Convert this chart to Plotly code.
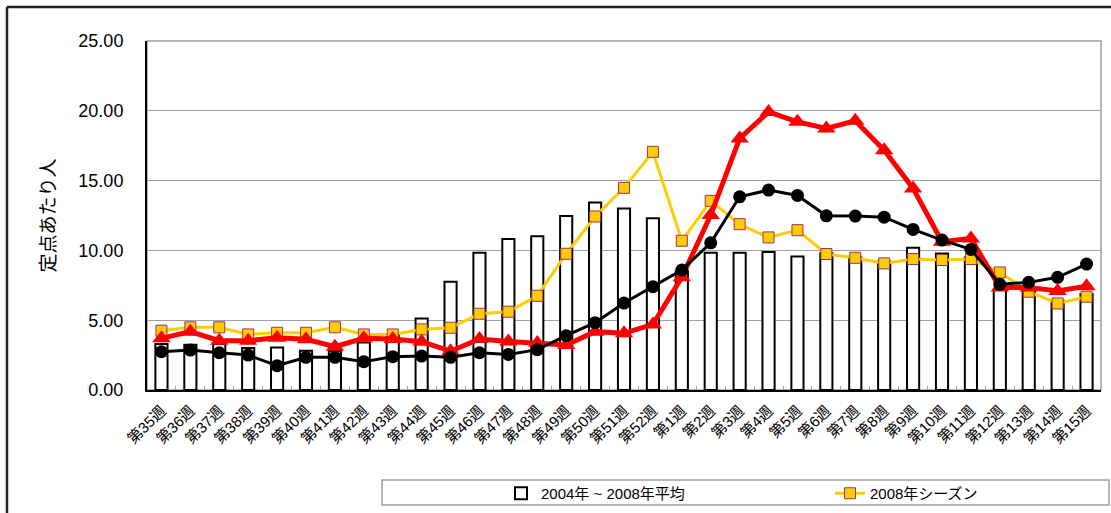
import plotly.graph_objects as go

weeks = [f"第{w}週" for w in range(35, 53)] + [f"第{w}週" for w in range(1, 16)]

avg_2004_2008 = [3.3, 3.25, 3.3, 3.0, 3.05, 2.82, 2.8, 3.4, 4.0, 5.13, 7.75, 9.83, 10.81, 11.02,
                 12.46, 13.43, 13.0, 12.31, 8.5, 9.83, 9.83, 9.88, 9.57, 9.8, 9.5, 9.2,
                 10.19, 9.78, 9.5, 7.2, 7.1, 6.4, 6.87]

season_2008 = [4.25, 4.49, 4.49, 3.98, 4.1, 4.1, 4.49, 3.98, 3.98, 4.34, 4.46, 5.46, 5.61, 6.75,
               9.76, 12.43, 14.48, 17.06, 10.69, 13.55, 11.88, 10.93, 11.45, 9.74, 9.47, 9.07,
               9.38, 9.31, 9.38, 8.42, 7.04, 6.2, 6.68]

season_red = [3.70, 4.18, 3.53, 3.53, 3.75, 3.63, 3.1, 3.7, 3.65, 3.46, 2.78, 3.65, 3.48, 3.36,
              3.22, 4.18, 4.06, 4.7, 8.07, 12.53, 18.02, 19.92, 19.21, 18.73, 19.28, 17.18,
              14.44, 10.62, 10.86, 7.35, 7.35, 7.09, 7.44]

season_black = [2.74, 2.86, 2.67, 2.5, 1.74, 2.34, 2.34, 2.03, 2.39, 2.43, 2.34, 2.67, 2.55, 2.89,
                3.89, 4.82, 6.23, 7.4, 8.59, 10.54, 13.84, 14.32, 13.94, 12.48, 12.46, 12.38,
                11.5, 10.74, 10.07, 7.57, 7.71, 8.07, 9.02]

y_ticks = [0, 5, 10, 15, 20, 25]

FONT = "Liberation Sans, Arial, Noto Sans CJK JP, sans-serif"

fig = go.Figure()
fig.add_trace(go.Bar(
    x=weeks, y=avg_2004_2008, name="2004年 ~ 2008年平均",
    marker=dict(color="white", line=dict(color="black", width=2)),
))
fig.add_trace(go.Scatter(
    x=weeks, y=season_2008, name="2008年シーズン", mode="lines+markers",
    line=dict(color="#FFCC00", width=3),
    marker=dict(symbol="square", size=11, color="#FFCC00", line=dict(color="#993366", width=1)),
))
fig.add_trace(go.Scatter(
    x=weeks, y=season_red, name="2009年シーズン", mode="lines+markers", showlegend=False,
    line=dict(color="#FF0000", width=5),
    marker=dict(symbol="triangle-up", size=16, color="#FF0000"),
))
fig.add_trace(go.Scatter(
    x=weeks, y=season_black, name="2010年シーズン", mode="lines+markers", showlegend=False,
    line=dict(color="black", width=3),
    marker=dict(symbol="circle", size=13, color="black"),
))

L, R, T, B = 147, 10, 41, 123
W, H = 1111, 513
pw, ph = W - L - R, H - T - B

def px_x(p):
    return (p - L) / pw

def px_y(p):
    return (H - B - p) / ph

fig.update_layout(
    width=W, height=H,
    margin=dict(l=L, r=R, t=T, b=B),
    paper_bgcolor="white", plot_bgcolor="white",
    bargap=0.58,
    font=dict(family=FONT, color="black"),
    showlegend=True,
    legend=dict(
        orientation="h", xref="container", yref="container",
        x=501 / W, y=1 - 477 / H, xanchor="left", yanchor="top",
        entrywidth=284, entrywidthmode="pixels",
        font=dict(size=15, family=FONT), bgcolor="rgba(0,0,0,0)", borderwidth=0,
    ),
    xaxis=dict(
        type="category", range=[-0.5, len(weeks) - 0.5],
        tickangle=-45, tickfont=dict(size=15), ticklabelstandoff=4,
        showline=True, linecolor="black", linewidth=2,
        ticks="inside", tickson="boundaries", ticklen=4, tickcolor="#a0a0a0",
        showgrid=False,
    ),
    yaxis=dict(
        range=[0, 25], tickvals=y_ticks, tickformat=".2f",
        tickfont=dict(size=18), ticklabelstandoff=18,
        showline=True, linecolor="black", linewidth=2,
        showgrid=True, gridcolor="#a0a0a0", gridwidth=1, zeroline=False,
        title=dict(text="定点あたり人", font=dict(size=19), standoff=18),
    ),
    shapes=[
        dict(type="rect", xref="paper", yref="paper", x0=0, x1=1, y0=0, y1=1,
             line=dict(color="#a0a0a0", width=1.5), layer="below"),
        dict(type="rect", xref="paper", yref="paper",
             x0=px_x(382), x1=px_x(1109), y0=px_y(505), y1=px_y(480),
             line=dict(color="#a0a0a0", width=1.5)),
        dict(type="line", xref="paper", yref="paper",
             x0=px_x(7), x1=px_x(7), y0=px_y(7), y1=px_y(530),
             line=dict(color="#222222", width=2.5)),
        dict(type="line", xref="paper", yref="paper",
             x0=px_x(7), x1=px_x(1130), y0=px_y(7), y1=px_y(7),
             line=dict(color="#222222", width=2.5)),
    ],
)

fig.write_html(
    "out.html",
    config={"displayModeBar": False},
    post_script="document.body.style.margin='0';document.body.style.overflow='hidden';",
)
